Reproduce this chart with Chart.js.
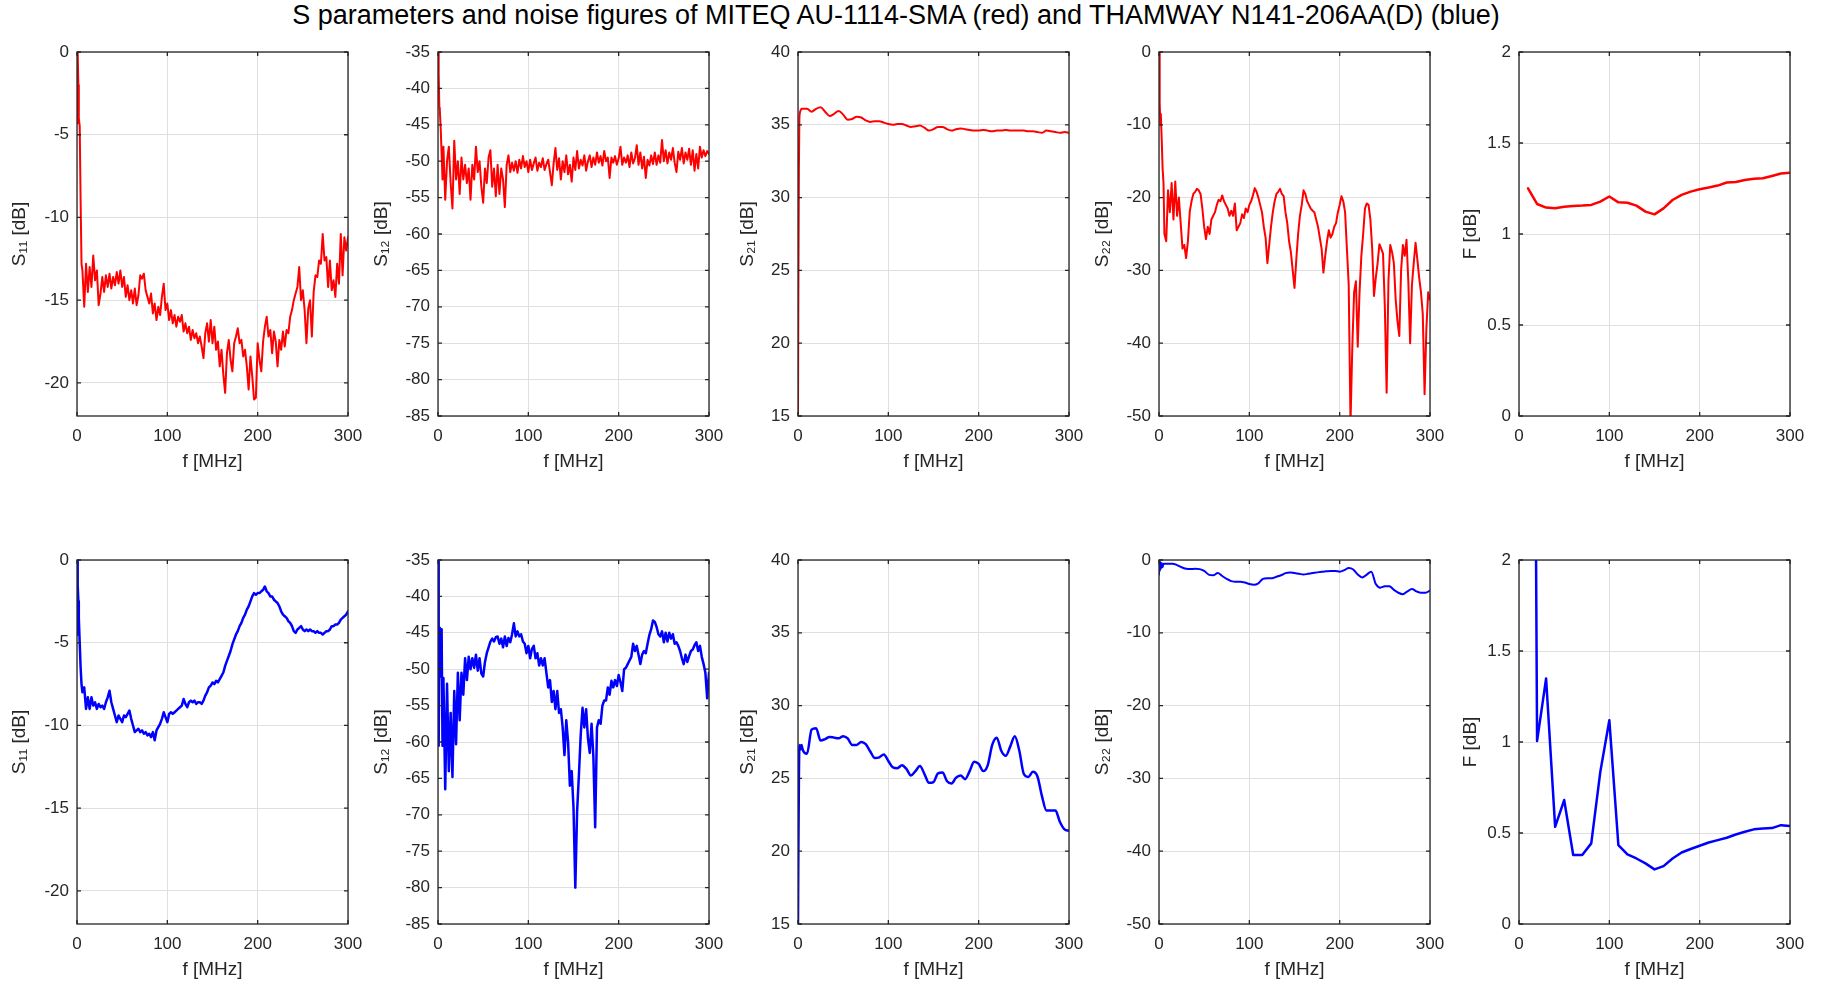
<!DOCTYPE html>
<html>
<head>
<meta charset="utf-8">
<script src="https://cdn.jsdelivr.net/npm/chart.js@4.4.1/dist/chart.umd.min.js"></script>
<style>
body { margin:0; background:#fff; width:1825px; height:986px; position:relative; overflow:hidden; font-family:"Liberation Sans", Arial, sans-serif; }
#title { position:absolute; left:0; top:0px; width:1792px; text-align:center; font-size:27px; line-height:30px; color:#000; }
canvas { position:absolute; }
</style>
</head>
<body>
<div id="title">S parameters and noise figures of MITEQ AU-1114-SMA (red) and THAMWAY N141-206AA(D) (blue)</div>
<script>
// frequency grids [MHz]
var fNoisy = [0,0.5,1,1.5,2,3,4,5,6,
	8,10,12,14,16,18,20,22,24,26,
	28,30,32,34,36,38,40,42,44,46,
	48,50,52,54,56,58,60,62,64,66,
	68,70,72,74,76,78,80,82,84,86,
	88,90,92,94,96,98,100,102,104,106,
	108,110,112,114,116,118,120,122,124,126,
	128,130,132,134,136,138,140,142,144,146,
	148,150,152,154,156,158,160,162,164,166,
	168,170,172,174,176,178,180,182,184,186,
	188,190,192,194,196,198,200,202,204,206,
	208,210,212,214,216,218,220,222,224,226,
	228,230,232,234,236,238,240,242,244,246,
	248,250,252,254,256,258,260,262,264,266,
	268,270,272,274,276,278,280,282,284,286,
	288,290,292,294,296,298,300];

var fSmooth = [0,0.5,1,1.5,2,3,4,
	5,10,15,20,25,30,35,40,45,50,
	55,60,65,70,75,80,85,90,95,100,
	105,110,115,120,125,130,135,140,145,150,
	155,160,165,170,175,180,185,190,195,200,
	205,210,215,220,225,230,235,240,245,250,
	255,260,265,270,275,280,285,290,295,300];

var fNF = [10,20,30,40,50,60,70,80,90,100,
	110,120,130,140,150,160,170,180,190,200,
	210,220,230,240,250,260,270,280,290,300];

// MITEQ AU-1114-SMA
var s11Miteq = [-4.3,-1.5,0,-2,-4,-4.5,-9,-12.8,-13.2,
	-15.4,-12.8,-14.5,-13,-14.2,-12.3,-13.8,-13.2,-15.3,-14.6,
	-13.6,-14.5,-13.5,-14.2,-13.4,-14.3,-13.6,-14.1,-13.3,-14.0,
	-13.2,-14.2,-13.6,-14.8,-14.1,-15.0,-14.4,-15.2,-14.3,-15.3,
	-14.7,-13.5,-13.7,-13.4,-14.4,-14.8,-15.2,-14.6,-15.8,-15.2,
	-16.2,-15.4,-15.9,-14.8,-14.0,-15.6,-15.2,-16.2,-15.6,-16.4,
	-15.9,-16.6,-16.0,-16.3,-15.9,-16.9,-16.4,-17.0,-16.6,-17.4,
	-16.8,-17.3,-17.0,-17.6,-17.2,-17.8,-18.5,-17.0,-16.4,-17.5,
	-16.2,-17.6,-16.6,-18.0,-17.5,-19.0,-18.0,-19.5,-20.6,-18.2,
	-17.4,-18.6,-19.3,-17.6,-17.2,-16.7,-17.6,-17.4,-18.4,-18.0,
	-19.0,-20.4,-18.4,-19.6,-21.0,-20.9,-17.6,-18.6,-19.3,-17.5,
	-16.6,-16.0,-17.2,-16.8,-18.2,-16.9,-17.5,-19.0,-17.4,-18.0,
	-16.9,-17.8,-16.8,-17.0,-16.0,-15.6,-15.0,-14.6,-14.2,-13.0,
	-15.0,-14.4,-15.6,-17.6,-15.5,-15.0,-17.2,-14.5,-13.5,-13.6,
	-12.6,-12.8,-11.0,-12.6,-12.4,-14.2,-12.6,-14.4,-13.8,-14.8,
	-12.8,-14.0,-11.0,-13.5,-11.2,-12.0,-11.2];

var s12Miteq = [-35,-36,-38,-42.7,-43,-45.5,-49,-52.5,-48,
	-55.3,-50,-48,-53,-56.5,-47.2,-52.5,-50,-54.5,-49.5,
	-52.5,-50.5,-53,-51,-55.3,-50.5,-52.5,-48,-51.5,-50,
	-53.5,-55.7,-51,-53,-49.5,-48.5,-53.5,-51,-54.8,-50.5,
	-54.5,-51,-52.5,-56.3,-50.5,-49.2,-51.5,-50.2,-51.3,-50,
	-51.6,-49.8,-51,-49.3,-50.8,-50,-51.5,-49.8,-51.2,-50.3,
	-49.5,-51.3,-50.2,-50.8,-49.6,-51.2,-50.4,-49.8,-51.5,-53.3,
	-50.3,-48.2,-51.2,-49.6,-52.5,-50,-51.5,-49.2,-51.8,-50.5,
	-52.8,-49.5,-51.2,-48.6,-51,-49.8,-50.6,-49.2,-51.3,-50,
	-49.2,-50.8,-49.5,-50.5,-48.8,-50.2,-49.3,-50.6,-48.6,-50,
	-49.5,-52.3,-49.5,-50.2,-49.3,-50.5,-49.6,-48,-50.5,-49.5,
	-50.2,-49.2,-50.8,-48.8,-50.3,-49.6,-47.8,-50.5,-48.8,-51,
	-49.4,-52.3,-49.8,-50.6,-49.2,-50.4,-48.8,-50.5,-49.2,-50.2,
	-47.1,-50,-48.5,-50.3,-48.8,-49.8,-48.2,-50.2,-51.5,-48.7,
	-49.8,-48.2,-50.3,-48.8,-49.8,-48.3,-50.5,-48.5,-51.3,-49,
	-51,-48,-49.5,-48.5,-49.3,-48.6,-49];

var s21Miteq = [15,25,32,35.3,35.8,36.0,36.1,
	36.1,36.1,35.9,36.1,36.2,35.9,35.6,35.75,35.95,35.7,
	35.35,35.4,35.55,35.5,35.3,35.2,35.25,35.25,35.15,35.05,
	35.0,35.05,35.05,34.95,34.85,34.9,34.95,34.8,34.6,34.7,
	34.85,34.85,34.7,34.6,34.7,34.75,34.7,34.65,34.6,34.6,
	34.65,34.6,34.55,34.6,34.6,34.65,34.6,34.6,34.6,34.6,
	34.55,34.55,34.5,34.45,34.6,34.55,34.5,34.45,34.5,34.45];

var s22Miteq = [0,-3,-7,-10,-8.5,-12,-16,-18,-25,
	-26,-19,-22,-18,-23,-17.8,-22.5,-20,-23.5,-27,
	-26.5,-28.3,-26,-22,-20.5,-19.5,-19.2,-18.8,-19,-19.5,
	-21.5,-24,-25.7,-24,-25,-23,-22.5,-22,-21,-20.3,
	-20.5,-19.7,-20.5,-21,-21.5,-22.5,-21.8,-22.5,-20.8,-24.5,
	-24,-23.5,-22.3,-22.8,-21.5,-22,-21,-20.5,-19.7,-18.7,
	-19.2,-20,-21,-22,-24,-25.5,-29,-26.5,-24,-22,
	-20.5,-19.5,-19.2,-18.8,-19.5,-19.8,-22,-23.5,-26,-27.5,
	-30,-32.4,-28.5,-25,-22.5,-21,-19,-19.5,-20.5,-21,
	-21.5,-21.8,-22,-23,-24,-25.5,-27,-30.3,-28,-26,
	-24.5,-25.5,-25,-24,-23.5,-22,-21,-19.8,-20.5,-22,
	-27,-32,-51,-40.5,-33,-31.5,-40.5,-33,-28,-25,
	-21.5,-20.8,-21,-23,-27,-33.5,-31,-29,-26.4,-27,
	-27.7,-35,-46.8,-31.5,-26.5,-27.5,-29,-34,-37,-39,
	-30,-26.5,-28,-25.8,-31.5,-40,-32,-29,-26.2,-28.5,
	-31,-33,-36,-47,-38,-33,-34];

var nfMiteq = [1.251,1.165,1.145,1.141,1.150,1.154,1.156,1.160,1.178,1.206,
	1.174,1.172,1.156,1.123,1.108,1.141,1.187,1.215,1.233,1.246,
	1.255,1.266,1.283,1.286,1.297,1.303,1.306,1.319,1.332,1.336];

// THAMWAY N141-206AA(D)
var s11Thamway = [-4.5,0,-1.5,-2.5,-3.5,-5,-6.5,-7.5,-8,
	-7.7,-9.0,-8.3,-9.0,-8.3,-8.8,-8.6,-9.0,-8.7,-8.9,
	-8.8,-9.0,-8.6,-8.3,-7.9,-8.6,-9.0,-9.4,-9.8,-9.4,
	-9.6,-9.8,-9.4,-9.5,-9.3,-9.1,-9.6,-10.0,-10.4,-10.3,
	-10.2,-10.4,-10.3,-10.5,-10.4,-10.6,-10.5,-10.7,-10.4,-10.9,
	-10.3,-10.1,-9.9,-9.6,-9.2,-9.5,-9.8,-9.3,-9.2,-9.3,
	-9.2,-9.1,-9.0,-8.9,-8.8,-8.4,-8.7,-8.9,-8.6,-8.5,
	-8.6,-8.5,-8.7,-8.6,-8.6,-8.7,-8.5,-8.2,-8.0,-7.7,
	-7.6,-7.4,-7.5,-7.3,-7.4,-7.2,-7.0,-6.8,-6.4,-6.1,
	-5.8,-5.5,-5.1,-4.8,-4.5,-4.3,-4.0,-3.8,-3.5,-3.3,
	-3.0,-2.8,-2.5,-2.2,-2.0,-2.1,-2.0,-2.0,-1.9,-1.8,
	-1.6,-1.9,-2.0,-2.2,-2.2,-2.4,-2.5,-2.6,-2.8,-3.1,
	-3.3,-3.4,-3.5,-3.7,-3.8,-4.0,-4.3,-4.4,-4.2,-4.1,
	-4.0,-4.2,-4.3,-4.2,-4.3,-4.2,-4.3,-4.3,-4.4,-4.3,
	-4.4,-4.4,-4.5,-4.4,-4.3,-4.3,-4.2,-4.0,-4.0,-3.9,
	-3.9,-3.8,-3.6,-3.5,-3.4,-3.3,-3.1];

var s12Thamway = [-35,-40,-60.5,-46,-44.3,-51,-44.5,-60.5,-51.2,
	-66.5,-52,-64,-56,-64.8,-53,-60.3,-50.5,-57,-50.5,
	-53.5,-48.5,-51.5,-48.3,-50,-48.5,-49.8,-48,-50.2,-48.5,
	-50.6,-51.0,-49,-47.8,-47.0,-46.2,-45.8,-46.2,-45.6,-45.5,
	-46.5,-45.8,-47,-45.5,-46.8,-45.7,-46.3,-45.2,-43.7,-45.5,
	-44.8,-45.5,-45.2,-46.2,-46.5,-47.8,-46.8,-48.5,-47.2,-46.8,
	-48.5,-47.8,-49.5,-48.5,-49.5,-48.5,-50.5,-52.5,-51.5,-54.5,
	-53,-55.5,-53,-56,-55.5,-58,-61.8,-57,-60,-66,
	-64,-69,-80,-69.5,-64.5,-59,-55.3,-58,-55.5,-59.5,
	-61.5,-57.5,-62,-71.7,-58,-57,-57.5,-55,-54.3,-54.3,
	-52.5,-53.5,-51.6,-52.5,-51.5,-52.3,-50.8,-51.8,-53,-50,
	-49.8,-49.3,-48.8,-48.3,-46.5,-47.5,-46.8,-48,-49.3,-48,
	-47.5,-47.8,-46.5,-45.3,-44.5,-43.3,-43.5,-44.2,-45.2,-45.5,
	-44.8,-46.3,-45,-46.2,-45,-45.8,-45.2,-46.5,-46.3,-46.8,
	-47.5,-48.5,-49.3,-48,-49,-48.2,-47.5,-47.3,-46.7,-46.3,
	-47.5,-46.8,-48.3,-49.3,-50.5,-54,-50.5];

var s21Thamway = [15,20.8,25,27.2,27.3,27.0,27.3,
	27.0,26.7,28.35,28.45,27.6,27.7,27.85,27.8,27.75,27.9,
	27.75,27.3,27.3,27.5,27.35,26.85,26.4,26.45,26.65,26.2,
	25.75,25.7,25.9,25.65,25.2,25.5,25.85,25.3,24.7,24.75,
	25.35,25.4,24.8,24.65,25.05,25.2,24.95,25.5,26.15,26.0,
	25.5,25.9,27.3,27.8,26.9,26.55,27.2,27.9,26.9,25.3,
	25.1,25.45,25.15,23.8,22.8,22.8,22.8,22.0,21.5,21.4];

var s22Thamway = [-2,0,-1.5,-0.3,-1.2,-0.4,-1.0,
	-0.5,-0.5,-0.5,-0.7,-1.0,-1.2,-1.25,-1.2,-1.25,-1.5,
	-2.0,-2.1,-1.8,-2.2,-2.6,-2.9,-3.0,-3.0,-3.1,-3.3,
	-3.4,-3.2,-2.6,-2.5,-2.5,-2.3,-2.1,-1.8,-1.7,-1.8,
	-1.9,-2.0,-1.9,-1.8,-1.7,-1.6,-1.55,-1.5,-1.5,-1.6,
	-1.4,-1.1,-1.3,-2.0,-2.4,-2.0,-1.6,-3.3,-3.8,-3.6,
	-3.6,-4.1,-4.5,-4.7,-4.3,-4.0,-4.3,-4.5,-4.5,-4.2];

var nfThamway = [10,1.005,1.349,0.534,0.681,0.379,0.379,0.443,0.836,1.120,
	0.434,0.382,0.360,0.333,0.300,0.318,0.360,0.393,0.412,0.430,
	0.448,0.461,0.474,0.492,0.507,0.520,0.525,0.527,0.543,0.538];

// layout of the 2x5 axes grid
var boxLeft = [77, 438, 798, 1159, 1519];
var yAxisW = [69, 68, 62, 68, 60];
var boxTop = [52, 560];
var BOX_W = 271, BOX_H = 364;
var PAD_T = 20, PAD_R = 30, XH = 58;

var panels = [
	{row:0, col:0, f:fNoisy, v:s11Miteq, color:'#ff0000', lw:2, min:-22, max:0, step:5, label:'S\u2081\u2081 [dB]'},
	{row:0, col:1, f:fNoisy, v:s12Miteq, color:'#ff0000', lw:2, min:-85, max:-35, step:5, label:'S\u2081\u2082 [dB]'},
	{row:0, col:2, f:fSmooth, v:s21Miteq, color:'#ff0000', lw:2, min:15, max:40, step:5, label:'S\u2082\u2081 [dB]', smooth:true},
	{row:0, col:3, f:fNoisy, v:s22Miteq, color:'#ff0000', lw:2, min:-50, max:0, step:10, label:'S\u2082\u2082 [dB]'},
	{row:0, col:4, f:fNF, v:nfMiteq, color:'#ff0000', lw:2.5, min:0, max:2, step:0.5, label:'F [dB]'},
	{row:1, col:0, f:fNoisy, v:s11Thamway, color:'#0000ff', lw:2.5, min:-22, max:0, step:5, label:'S\u2081\u2081 [dB]'},
	{row:1, col:1, f:fNoisy, v:s12Thamway, color:'#0000ff', lw:2.5, min:-85, max:-35, step:5, label:'S\u2081\u2082 [dB]'},
	{row:1, col:2, f:fSmooth, v:s21Thamway, color:'#0000ff', lw:2.5, min:15, max:40, step:5, label:'S\u2082\u2081 [dB]', smooth:true},
	{row:1, col:3, f:fSmooth, v:s22Thamway, color:'#0000ff', lw:2, min:-50, max:0, step:10, label:'S\u2082\u2082 [dB]', smooth:true},
	{row:1, col:4, f:fNF, v:nfThamway, color:'#0000ff', lw:2.5, min:0, max:2, step:0.5, label:'F [dB]'}
];

Chart.defaults.font.family = '"Liberation Sans", Arial, sans-serif';

// matlab style box with inward tick marks
var boxPlugin = {
	id: 'matlabBox',
	afterDraw: function(chart) {
		var ctx = chart.ctx, a = chart.chartArea;
		var sx = chart.scales.x, sy = chart.scales.y;
		ctx.save();
		ctx.strokeStyle = '#262626';
		ctx.lineWidth = 1.3;
		ctx.beginPath();
		sx.ticks.forEach(function(t) {
			var px = sx.getPixelForValue(t.value);
			ctx.moveTo(px, a.bottom); ctx.lineTo(px, a.bottom - 4);
			ctx.moveTo(px, a.top); ctx.lineTo(px, a.top + 4);
		});
		sy.ticks.forEach(function(t) {
			var py = sy.getPixelForValue(t.value);
			ctx.moveTo(a.left, py); ctx.lineTo(a.left + 4, py);
			ctx.moveTo(a.right, py); ctx.lineTo(a.right - 4, py);
		});
		ctx.stroke();
		ctx.strokeRect(a.left, a.top, a.right - a.left, a.bottom - a.top);
		ctx.restore();
	}
};

function toPoints(fx, vals) {
	var pts = [];
	for (var i = 0; i < vals.length && i < fx.length; i++) {
		pts.push({x: fx[i], y: vals[i]});
	}
	return pts;
}

function plainTick(v) { return String(v); }

panels.forEach(function(p) {
	var yw = yAxisW[p.col];
	var cv = document.createElement('canvas');
	cv.width = yw + BOX_W + PAD_R;
	cv.height = PAD_T + BOX_H + XH;
	cv.style.left = (boxLeft[p.col] - yw) + 'px';
	cv.style.top = (boxTop[p.row] - PAD_T) + 'px';
	document.body.appendChild(cv);

	new Chart(cv, {
		type: 'line',
		data: {
			datasets: [{
				data: toPoints(p.f, p.v),
				borderColor: p.color,
				borderWidth: p.lw,
				borderJoinStyle: 'round',
				borderCapStyle: 'round',
				cubicInterpolationMode: p.smooth ? 'monotone' : 'default',
				pointRadius: 0,
				fill: false,
				tension: 0
			}]
		},
		options: {
			responsive: false,
			animation: false,
			layout: {padding: {top: PAD_T, right: PAD_R, left: 0, bottom: 0}},
			plugins: {legend: {display: false}, tooltip: {enabled: false}},
			scales: {
				x: {
					type: 'linear', min: 0, max: 300,
					ticks: {stepSize: 100, padding: 10, color: '#262626', font: {size: 17}, maxRotation: 0, callback: plainTick},
					grid: {color: '#dfdfdf', drawTicks: false},
					border: {display: false},
					title: {display: true, text: 'f [MHz]', color: '#262626', font: {size: 19}, padding: {top: 0, bottom: 1}},
					afterFit: function(s) { s.height = XH; }
				},
				y: {
					type: 'linear', min: p.min, max: p.max,
					ticks: {stepSize: p.step, padding: 8, includeBounds: false, color: '#262626', font: {size: 17}, callback: plainTick},
					grid: {color: '#dfdfdf', drawTicks: false},
					border: {display: false},
					title: {display: true, text: p.label, color: '#262626', font: {size: 19}, padding: 0},
					afterFit: function(s) { s.width = yw; }
				}
			}
		},
		plugins: [boxPlugin]
	});
});
</script>
</body>
</html>
